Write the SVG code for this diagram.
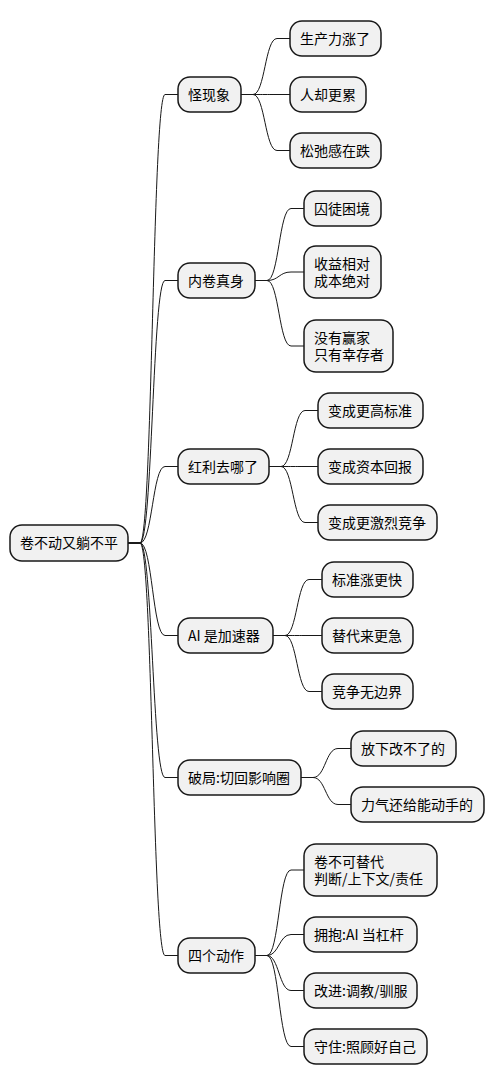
<svg xmlns="http://www.w3.org/2000/svg" width="502" height="1086" viewBox="0 0 502 1086">
<style>
.n rect{fill:#F1F1F1;stroke:#181818;stroke-width:1.5}
.n text{font-family:"Noto Sans CJK SC","Liberation Sans",sans-serif;font-size:14px;fill:#000}
.c path{fill:none;stroke:#181818;stroke-width:1}
</style>
<rect width="502" height="1086" fill="#FFFFFF"/>
<g class="c" id="connectors">
<path d="M128,543 H140 C152.5,543 152.5,94.5 165,94.5 H178"/>
<path d="M128,543 H140 C152.5,543 152.5,280.5 165,280.5 H178"/>
<path d="M128,543 H140 C152.5,543 152.5,466.5 165,466.5 H178"/>
<path d="M128,543 H140 C152.5,543 152.5,635.5 165,635.5 H178"/>
<path d="M128,543 H140 C152.5,543 152.5,777.5 165,777.5 H178"/>
<path d="M128,543 H140 C152.5,543 152.5,955.5 165,955.5 H178"/>
<path d="M241,94.5 H253 C265,94.5 265,38.5 277,38.5 H290"/>
<path d="M241,94.5 H253 C265,94.5 265,94.5 277,94.5 H290"/>
<path d="M241,94.5 H253 C265,94.5 265,150.5 277,150.5 H290"/>
<path d="M255,280.5 H267 C279,280.5 279,208.5 291,208.5 H304"/>
<path d="M255,280.5 H267 C279,280.5 279,272 291,272 H304"/>
<path d="M255,280.5 H267 C279,280.5 279,346 291,346 H304"/>
<path d="M269,466.5 H281 C293,466.5 293,410.5 305,410.5 H318"/>
<path d="M269,466.5 H281 C293,466.5 293,466.5 305,466.5 H318"/>
<path d="M269,466.5 H281 C293,466.5 293,522.5 305,522.5 H318"/>
<path d="M273,635.5 H285 C297,635.5 297,579.5 309,579.5 H322"/>
<path d="M273,635.5 H285 C297,635.5 297,635.5 309,635.5 H322"/>
<path d="M273,635.5 H285 C297,635.5 297,691.5 309,691.5 H322"/>
<path d="M301,777.5 H313 C325.5,777.5 325.5,748.5 338,748.5 H351"/>
<path d="M301,777.5 H313 C325.5,777.5 325.5,804.5 338,804.5 H351"/>
<path d="M255,955.5 H267 C279,955.5 279,870 291,870 H304"/>
<path d="M255,955.5 H267 C279,955.5 279,934.5 291,934.5 H304"/>
<path d="M255,955.5 H267 C279,955.5 279,990.5 291,990.5 H304"/>
<path d="M255,955.5 H267 C279,955.5 279,1046.5 291,1046.5 H304"/>
</g>
<g class="n" id="root"><rect x="10" y="525" width="118" height="36" rx="12"/><text x="20" y="548">卷不动又躺不平</text></g>
<g class="n" id="n1"><rect x="178" y="77" width="63" height="35" rx="12"/><text x="188" y="99.5">怪现象</text></g>
<g class="n" id="n1a"><rect x="290" y="21" width="91" height="35" rx="12"/><text x="300" y="43.5">生产力涨了</text></g>
<g class="n" id="n1b"><rect x="290" y="77" width="76" height="35" rx="12"/><text x="300" y="99.5">人却更累</text></g>
<g class="n" id="n1c"><rect x="290" y="133" width="91" height="35" rx="12"/><text x="300" y="155.5">松弛感在跌</text></g>
<g class="n" id="n2"><rect x="178" y="263" width="77" height="35" rx="12"/><text x="188" y="285.5">内卷真身</text></g>
<g class="n" id="n2a"><rect x="304" y="191" width="77" height="35" rx="12"/><text x="314" y="213.5">囚徒困境</text></g>
<g class="n" id="n2b"><rect x="304" y="246" width="77" height="52" rx="12"/><text x="314" y="268.5">收益相对<tspan x="314" dy="17">成本绝对</tspan></text></g>
<g class="n" id="n2c"><rect x="304" y="320" width="89" height="52" rx="12"/><text x="314" y="342.5">没有赢家<tspan x="314" dy="17">只有幸存者</tspan></text></g>
<g class="n" id="n3"><rect x="178" y="449" width="91" height="35" rx="12"/><text x="188" y="471.5">红利去哪了</text></g>
<g class="n" id="n3a"><rect x="318" y="393" width="105" height="35" rx="12"/><text x="328" y="415.5">变成更高标准</text></g>
<g class="n" id="n3b"><rect x="318" y="449" width="105" height="35" rx="12"/><text x="328" y="471.5">变成资本回报</text></g>
<g class="n" id="n3c"><rect x="318" y="505" width="119" height="35" rx="12"/><text x="328" y="527.5">变成更激烈竞争</text></g>
<g class="n" id="n4"><rect x="178" y="618" width="95" height="35" rx="12"/><text x="188" y="640.5">AI 是加速器</text></g>
<g class="n" id="n4a"><rect x="322" y="562" width="91" height="35" rx="12"/><text x="332" y="584.5">标准涨更快</text></g>
<g class="n" id="n4b"><rect x="322" y="618" width="91" height="35" rx="12"/><text x="332" y="640.5">替代来更急</text></g>
<g class="n" id="n4c"><rect x="322" y="674" width="91" height="35" rx="12"/><text x="332" y="696.5">竞争无边界</text></g>
<g class="n" id="n5"><rect x="178" y="760" width="123" height="35" rx="12"/><text x="188" y="782.5">破局:切回影响圈</text></g>
<g class="n" id="n5a"><rect x="351" y="731" width="105" height="35" rx="12"/><text x="361" y="753.5">放下改不了的</text></g>
<g class="n" id="n5b"><rect x="351" y="787" width="133" height="35" rx="12"/><text x="361" y="809.5">力气还给能动手的</text></g>
<g class="n" id="n6"><rect x="178" y="938" width="77" height="35" rx="12"/><text x="188" y="960.5">四个动作</text></g>
<g class="n" id="n6a"><rect x="304" y="844" width="133" height="52" rx="12"/><text x="314" y="866.5">卷不可替代<tspan x="314" dy="17">判断/上下文/责任</tspan></text></g>
<g class="n" id="n6b"><rect x="304" y="917" width="113" height="35" rx="12"/><text x="314" y="939.5">拥抱:AI 当杠杆</text></g>
<g class="n" id="n6c"><rect x="304" y="973" width="113" height="35" rx="12"/><text x="314" y="995.5">改进:调教/驯服</text></g>
<g class="n" id="n6d"><rect x="304" y="1029" width="123" height="35" rx="12"/><text x="314" y="1051.5">守住:照顾好自己</text></g>
</svg>
